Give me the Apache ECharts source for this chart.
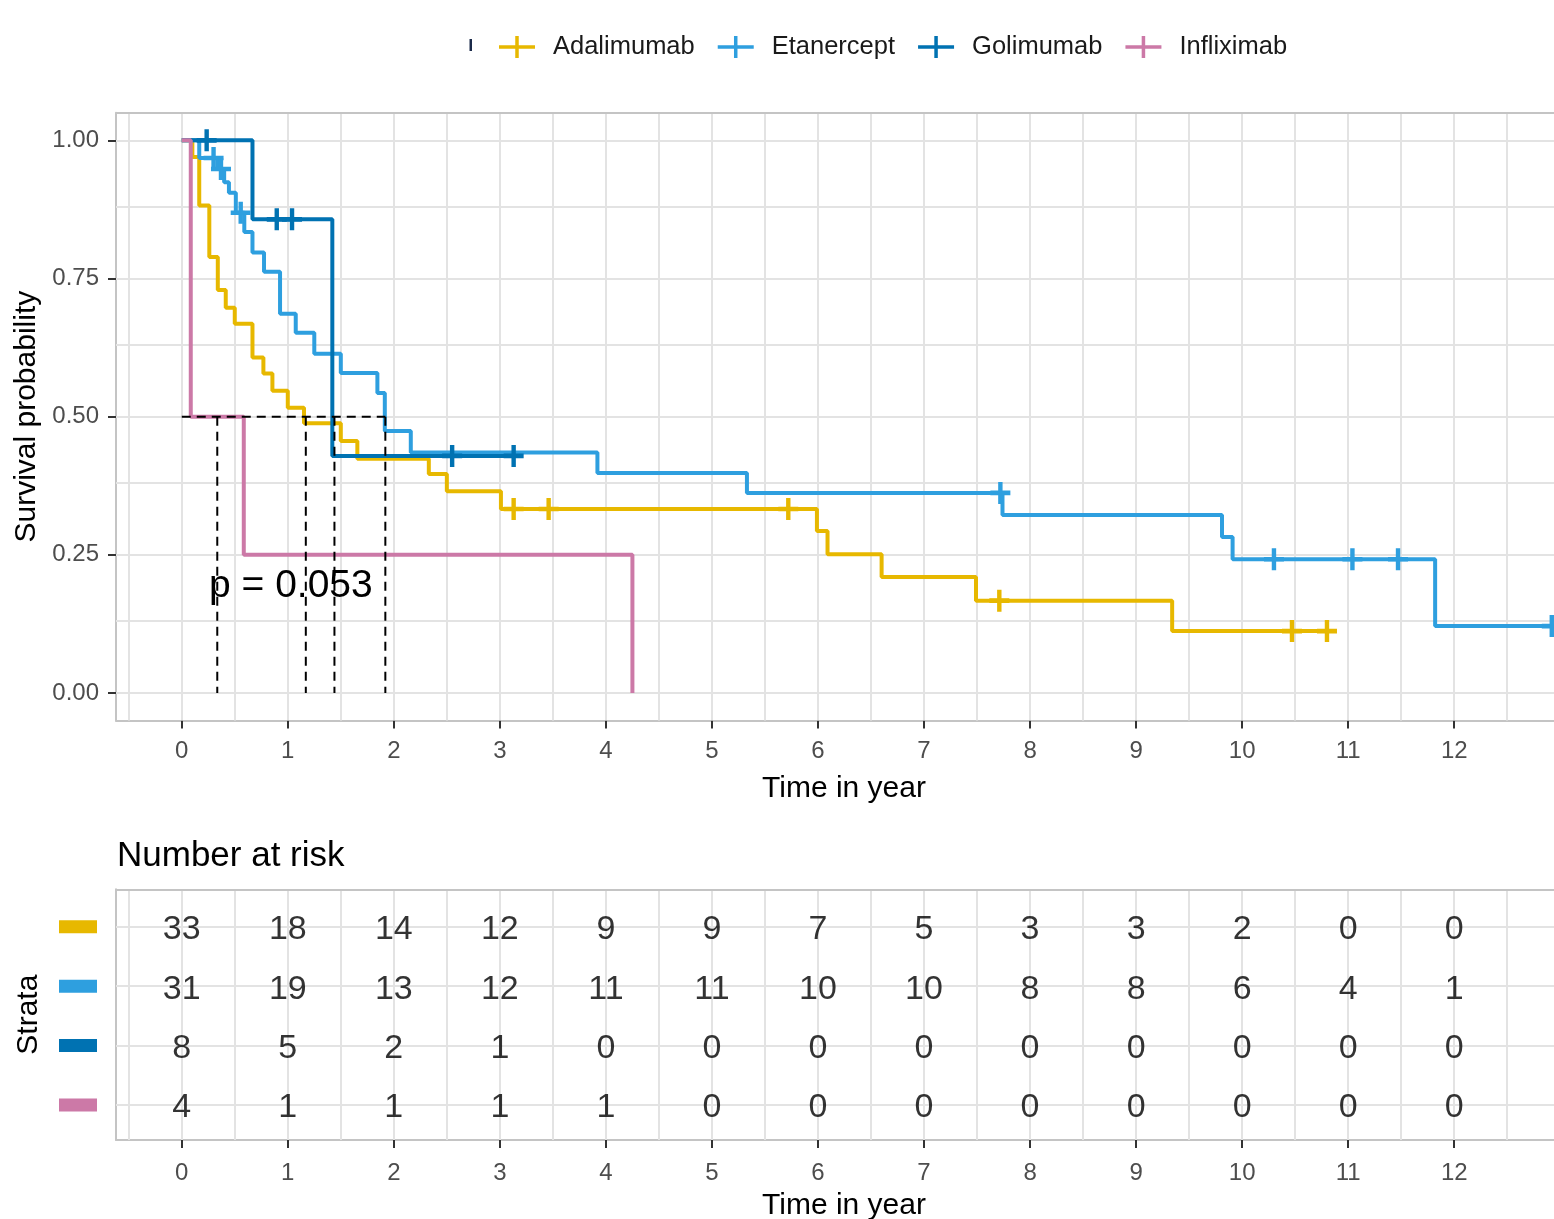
<!DOCTYPE html>
<html><head><meta charset="utf-8">
<script src="https://cdn.jsdelivr.net/npm/echarts@6/dist/echarts.min.js"></script>
<style>html,body{margin:0;padding:0;background:#fff}#c{width:1554px;height:1219px}</style>
</head><body><div id="c"></div>
<script>
// ---------------- data ----------------
const strata = ['Adalimumab', 'Etanercept', 'Golimumab', 'Infliximab'];
const colors = ['#E7B800', '#2E9FDF', '#0072B2', '#CC79A7'];

const adaTimes = [0, 0.10, 0.165, 0.26, 0.34, 0.415, 0.50, 0.667, 0.77, 0.855, 1.0, 1.153, 1.50, 1.656, 2.33, 2.50, 3.01, 5.99, 6.09, 6.60, 7.49, 9.34, 10.80];
const adaSurv  = [1, 0.970, 0.882, 0.789, 0.729, 0.697, 0.668, 0.607, 0.578, 0.547, 0.516, 0.488, 0.456, 0.424, 0.396, 0.365, 0.333, 0.293, 0.251, 0.210, 0.167, 0.112, 0.112];
const adaCensor = [3.13, 3.46, 5.72, 7.71, 10.47, 10.80];

const etaTimes = [0, 0.165, 0.336, 0.40, 0.445, 0.51, 0.59, 0.667, 0.776, 0.927, 1.075, 1.25, 1.50, 1.845, 1.915, 2.16, 3.92, 5.33, 7.74, 9.81, 9.91, 11.82, 12.95];
const etaSurv  = [1, 0.968, 0.948, 0.924, 0.905, 0.869, 0.834, 0.797, 0.762, 0.686, 0.652, 0.614, 0.579, 0.543, 0.474, 0.435, 0.398, 0.362, 0.322, 0.282, 0.242, 0.121, 0.121];
const etaCensor = [0.30, 0.37, 0.556, 7.72, 10.30, 11.04, 11.47, 12.92];

const golTimes = [0, 0.667, 1.42, 3.13];
const golSurv  = [1, 0.857, 0.429, 0.429];
const golCensor = [0.235, 0.896, 1.04, 2.55, 3.13];

const infTimes = [0, 0.085, 0.585, 4.25];
const infSurv  = [1, 0.5, 0.25, 0];
const infCensor = [];

const medianTimes = [0.335, 1.17, 1.44, 1.92];
const pValueText = 'p = 0.053';

const riskTimes = [0, 1, 2, 3, 4, 5, 6, 7, 8, 9, 10, 11, 12];
const adaRisk = [33, 18, 14, 12, 9, 9, 7, 5, 3, 3, 2, 0, 0];
const etaRisk = [31, 19, 13, 12, 11, 11, 10, 10, 8, 8, 6, 4, 1];
const golRisk = [8, 5, 2, 1, 0, 0, 0, 0, 0, 0, 0, 0, 0];
const infRisk = [4, 1, 1, 1, 1, 0, 0, 0, 0, 0, 0, 0, 0];

const xTicks = [0, 1, 2, 3, 4, 5, 6, 7, 8, 9, 10, 11, 12];
const yTicks = [0, 0.25, 0.5, 0.75, 1];

// ---------------- build ----------------
const FONT = '"Liberation Sans", Arial, sans-serif';
const curves = [
  {t: adaTimes, s: adaSurv, c: adaCensor},
  {t: etaTimes, s: etaSurv, c: etaCensor},
  {t: golTimes, s: golSurv, c: golCensor},
  {t: infTimes, s: infSurv, c: infCensor}
];
const risks = [adaRisk, etaRisk, golRisk, infRisk];

function survAt(times, surv, t) {
  let v = surv[0];
  for (let i = 0; i < times.length; i++) if (times[i] <= t) v = surv[i];
  return v;
}

const GW = 1438;               // panel runs past the right edge of the picture
const PX = 106.04;             // pixels per year
const XMIN = -0.62, XMAX = XMIN + GW / PX;
const Y0MIN = -0.05, Y0MAX = 1.05;
const Y1MIN = 0.41, Y1MAX = 4.63;

const plusPath = 'path://M-2.2,-10.5H2.2V-2.2H10V2.2H2.2V10.5H-2.2V2.2H-10V-2.2H-2.2Z';
const legendIcon = 'path://M0,9.25H36V12.75H0Z M16.25,0H19.75V22H16.25Z';

const gridColor = '#E3E3E3';
const borderColor = '#C4C4C4';
const vGrid = [];
for (let i = 0; i < xTicks.length + 1; i++) { vGrid.push(i); vGrid.push(i - 0.5); }
const hGridMain = [];
for (let i = 0; i < yTicks.length; i++) { hGridMain.push(yTicks[i]); if (i < yTicks.length - 1) hGridMain.push((yTicks[i] + yTicks[i + 1]) / 2); }
const rowPos = strata.map((s, i) => strata.length - i);

function gridLines(xi, hVals, topVal) {
  return {
    type: 'line', xAxisIndex: xi, yAxisIndex: xi, data: [], z: 1, silent: true,
    markLine: {
      silent: true, symbol: ['none', 'none'], animation: false, z: 1,
      label: {show: false},
      lineStyle: {color: gridColor, width: 2, type: 'solid'},
      emphasis: {disabled: true},
      data: vGrid.map(v => ({xAxis: v})).concat(hVals.map(v => ({yAxis: v})))
        .concat([{yAxis: topVal, lineStyle: {color: borderColor, width: 2, type: 'solid'}}])
    }
  };
}

const series = [gridLines(0, hGridMain, Y0MAX), gridLines(1, rowPos, Y1MAX)];

curves.forEach((cv, i) => {
  series.push({
    name: strata[i], type: 'line', step: 'end', showSymbol: false, symbol: 'none',
    xAxisIndex: 0, yAxisIndex: 0, z: 3 + i * 0.1,
    lineStyle: {color: colors[i], width: 4},
    itemStyle: {color: colors[i]},
    data: cv.t.map((t, k) => [t, cv.s[k]])
  });
});
curves.forEach((cv, i) => {
  series.push({
    name: strata[i], type: 'scatter', symbol: plusPath, symbolSize: [20, 22],
    xAxisIndex: 0, yAxisIndex: 0, z: 4,
    itemStyle: {color: colors[i], opacity: 1},
    data: cv.c.map(t => [t, survAt(cv.t, cv.s, t)])
  });
});

// median dashed lines
const maxMed = Math.max.apply(null, medianTimes);
const dashStyle = {color: '#000', width: 2, type: [9, 6]};
series.push({type: 'line', xAxisIndex: 0, yAxisIndex: 0, z: 5, symbol: 'none', lineStyle: dashStyle,
  data: [[0, 0.5], [maxMed, 0.5]]});
medianTimes.forEach(m => series.push({type: 'line', xAxisIndex: 0, yAxisIndex: 0, z: 5, symbol: 'none',
  lineStyle: dashStyle, data: [[m, 0.5], [m, 0]]}));

// risk table numbers
risks.forEach((r, i) => {
  series.push({
    type: 'scatter', xAxisIndex: 1, yAxisIndex: 1, z: 5, symbolSize: 1,
    itemStyle: {color: 'rgba(0,0,0,0)'},
    label: {show: true, position: 'inside', offset: [0, 3], formatter: p => String(p.data[2]),
      fontSize: 34, color: '#000', fontFamily: FONT},
    data: riskTimes.map((t, k) => [t, rowPos[i], r[k]])
  });
});

const axisLabelStyle = {color: '#4D4D4D', fontSize: 24, fontFamily: FONT};
const tickStyle = {show: true, length: 8, lineStyle: {color: '#333', width: 2}};
const axisLineStyle = {show: true, onZero: false, lineStyle: {color: borderColor, width: 2}};

const rich = {};
colors.forEach((c, i) => { rich['s' + i] = {width: 38, height: 13, backgroundColor: c, fontSize: 1}; });

const option = {
  animation: false,
  backgroundColor: '#fff',
  textStyle: {fontFamily: FONT},
  legend: {
    data: strata.map(s => ({name: s, icon: legendIcon})),
    left: 494, top: 29, itemWidth: 36, itemHeight: 22, itemGap: 23,
    textStyle: {fontSize: 25.5, color: '#1A1A1A', fontFamily: FONT, padding: [0, 0, 0, 13]},
    selectedMode: false
  },
  grid: [
    {left: 116, top: 112.7, width: GW, height: 607.9, show: false},
    {left: 116, top: 889.3, width: GW, height: 250.7, show: false}
  ],
  xAxis: [
    {type: 'value', gridIndex: 0, min: XMIN, max: XMAX, splitLine: {show: false}, axisLine: axisLineStyle,
     axisTick: Object.assign({customValues: xTicks}, tickStyle),
     axisLabel: Object.assign({customValues: xTicks, margin: 19}, axisLabelStyle)},
    {type: 'value', gridIndex: 1, min: XMIN, max: XMAX, splitLine: {show: false}, axisLine: axisLineStyle,
     axisTick: Object.assign({customValues: xTicks}, tickStyle),
     axisLabel: Object.assign({customValues: xTicks, margin: 21}, axisLabelStyle)}
  ],
  yAxis: [
    {type: 'value', gridIndex: 0, min: Y0MIN, max: Y0MAX, splitLine: {show: false}, axisLine: axisLineStyle,
     axisTick: Object.assign({customValues: yTicks}, tickStyle),
     axisLabel: Object.assign({customValues: yTicks, margin: 17, formatter: v => v.toFixed(2)}, axisLabelStyle),
     name: 'Survival probability', nameLocation: 'middle', nameGap: 72,
     nameTextStyle: {fontSize: 30, color: '#000', fontFamily: FONT}},
    {type: 'value', gridIndex: 1, min: Y1MIN, max: Y1MAX, splitLine: {show: false}, axisLine: axisLineStyle,
     axisTick: {show: false},
     axisLabel: {customValues: rowPos, margin: 19, formatter: v => '{s' + (strata.length - v) + '| }', rich: rich},
     name: 'Strata', nameLocation: 'middle', nameGap: 72,
     nameTextStyle: {fontSize: 30, color: '#000', fontFamily: FONT}}
  ],
  graphic: [
    {type: 'rect', shape: {x: 469.5, y: 39, width: 2.5, height: 12}, style: {fill: '#1B2A4A'}},
    {type: 'text', x: 209, y: 586, z: 10, style: {text: pValueText, x: 0, y: 0, verticalAlign: 'middle',
      font: '39px ' + FONT, fill: '#000'}},
    {type: 'text', x: 117, y: 856, style: {text: 'Number at risk', x: 0, y: 0, verticalAlign: 'middle',
      font: '35px ' + FONT, fill: '#000'}},
    {type: 'text', x: 844, y: 789, style: {text: 'Time in year', x: 0, y: 0, align: 'center', verticalAlign: 'middle',
      font: '30px ' + FONT, fill: '#000'}},
    {type: 'text', x: 844, y: 1206, style: {text: 'Time in year', x: 0, y: 0, align: 'center', verticalAlign: 'middle',
      font: '30px ' + FONT, fill: '#000'}}
  ],
  series: series
};

const chart = echarts.init(document.getElementById('c'), null, {renderer: 'canvas'});
chart.setOption(option);
</script>
</body></html>
